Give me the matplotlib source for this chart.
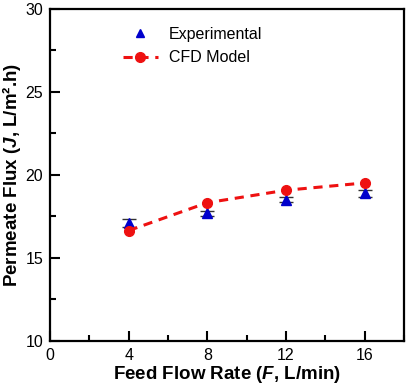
import matplotlib
matplotlib.use("Agg")
import matplotlib.pyplot as plt
from matplotlib.ticker import MultipleLocator
from matplotlib.lines import Line2D

plt.rcParams['font.family'] = ['Liberation Sans', 'DejaVu Sans']
plt.rcParams['mathtext.fontset'] = 'custom'
plt.rcParams['mathtext.bfit'] = 'Liberation Sans:italic:bold'
plt.rcParams['mathtext.it'] = 'Liberation Sans:italic'
plt.rcParams['mathtext.bf'] = 'Liberation Sans:bold'
plt.rcParams['mathtext.rm'] = 'Liberation Sans'

flow = [4, 8, 12, 16]
exp_flux = [17.1, 17.7, 18.5, 18.9]
exp_err = [0.25, 0.15, 0.15, 0.2]
cfd_flux = [16.65, 18.33, 19.08, 19.52]

fig = plt.figure(figsize=(4.1, 3.91), dpi=100)
ax = fig.add_axes([0.122, 0.128, 0.863, 0.849])

ax.errorbar(flow, exp_flux, yerr=exp_err, fmt='^', color='#0000CC', ecolor='#333333',
            elinewidth=1.0, capsize=5, markersize=7, zorder=3)
cfd_line, = ax.plot(flow, cfd_flux, '--o', color='#EE1111', lw=2.2, dashes=(3, 2.2), markersize=7,
                    zorder=4)
exp_proxy = Line2D([], [], ls='none', marker='^', color='#0000CC', markersize=6)

ax.set_xlim(0, 18)
ax.set_ylim(10, 30)
ax.set_xticks([0, 4, 8, 12, 16])
ax.set_yticks([10, 15, 20, 25, 30])
ax.xaxis.set_minor_locator(MultipleLocator(2))
ax.yaxis.set_minor_locator(MultipleLocator(2.5))
ax.tick_params(which='major', direction='in', length=7, width=1.5, labelsize=11.5, pad=5)
ax.tick_params(which='minor', direction='in', length=4, width=1.5)
for s in ax.spines.values():
    s.set_linewidth(1.6)

ax.set_xlabel('Feed Flow Rate ($\\mathbfit{F}$, L/min)', fontsize=13.5, fontweight='bold', labelpad=1)
ax.set_ylabel('Permeate Flux ($\\mathbfit{J}$, L/m\u00b2.h)', fontsize=13.5, fontweight='bold', labelpad=2)

ax.legend([exp_proxy, cfd_line], ['Experimental', 'CFD Model'], loc='upper left',
          bbox_to_anchor=(0.165, 0.99), frameon=False, fontsize=11.5,
          handlelength=2.2, handletextpad=0.7, labelspacing=0.55)

fig.savefig('out.png', dpi=100)
